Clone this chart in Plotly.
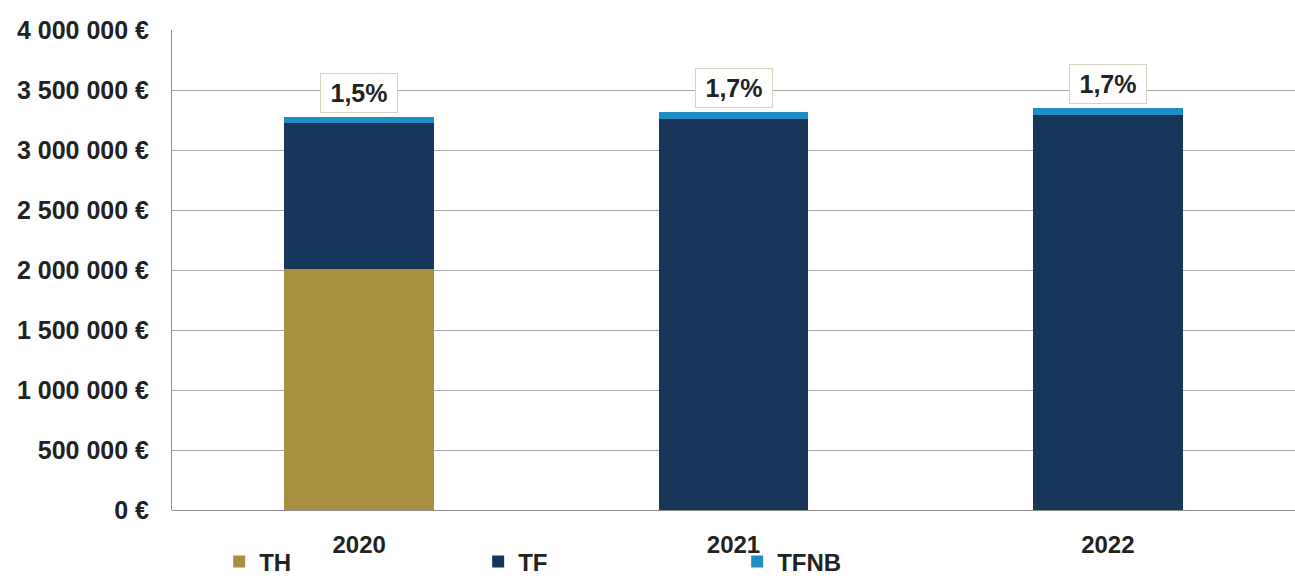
import plotly.graph_objects as go

# Stacked tax revenue by year
years = ["2020", "2021", "2022"]
th = [2010000, 0, 0]              # taxe d'habitation
tf = [1215000, 3260000, 3290000]  # taxe foncière
tfnb = [50000, 57000, 57000]      # taxe foncière non bâtie

tick_vals = [0, 500000, 1000000, 1500000, 2000000, 2500000, 3000000, 3500000, 4000000]
tick_text = ["0 €", "500 000 €", "1 000 000 €", "1 500 000 €", "2 000 000 €",
             "2 500 000 €", "3 000 000 €", "3 500 000 €", "4 000 000 €"]

FONT = "Liberation Sans, Arial, sans-serif"
TXT = "#222222"

fig = go.Figure()
fig.add_trace(go.Bar(x=years, y=th, name="TH", marker=dict(color="#A88F3F", line_width=0)))
fig.add_trace(go.Bar(x=years, y=tf, name="TF", marker=dict(color="#17365A", line_width=0)))
fig.add_trace(go.Bar(x=years, y=tfnb, name="TFNB", marker=dict(color="#1E8DC4", line_width=0)))

# Share of TFNB in the yearly total, shown in a box above each bar
for i, (a, b, c) in enumerate(zip(th, tf, tfnb)):
    total = a + b + c
    pct = f"{c / total * 100:.1f}".replace(".", ",") + "%"
    fig.add_annotation(
        x=i, y=total, xref="x", yref="y", text=f"<b>{pct}</b>", showarrow=False,
        yanchor="bottom", yshift=4,
        font=dict(family=FONT, size=25, color=TXT),
        bgcolor="white", bordercolor="#D8D3BE", borderwidth=1,
        borderpad=5, width=66, height=28,
    )

fig.update_layout(
    width=1295, height=578,
    margin=dict(l=172, r=0, t=30, b=68),
    barmode="stack", bargap=0.6,
    plot_bgcolor="white", paper_bgcolor="white",
    font=dict(family=FONT, size=24, color=TXT),
    showlegend=True,
    legend=dict(
        orientation="h", xref="paper", x=0.042, xanchor="left",
        yref="container", y=0.028, yanchor="middle",
        traceorder="normal", entrywidth=214, entrywidthmode="pixels",
        font=dict(family=FONT, size=24, color=TXT, weight="bold"),
        bgcolor="rgba(0,0,0,0)",
    ),
)
fig.update_xaxes(
    type="category", range=[-0.5, 2.5], showgrid=False, showline=False, ticks="",
    tickfont=dict(family=FONT, size=24, color=TXT, weight="bold"),
    ticklabelstandoff=18, automargin=False,
)
fig.update_yaxes(
    range=[0, 4000000], tickvals=tick_vals, ticktext=tick_text,
    showgrid=True, gridcolor="#A8A8A8", gridwidth=1,
    showline=True, linecolor="#8C8C8C", linewidth=1,
    zeroline=True, zerolinecolor="#8C8C8C", zerolinewidth=1,
    ticks="", ticklabelstandoff=17, automargin=False,
    tickfont=dict(family=FONT, size=25, color=TXT, weight="bold"),
)

fig.write_html("out.html")
